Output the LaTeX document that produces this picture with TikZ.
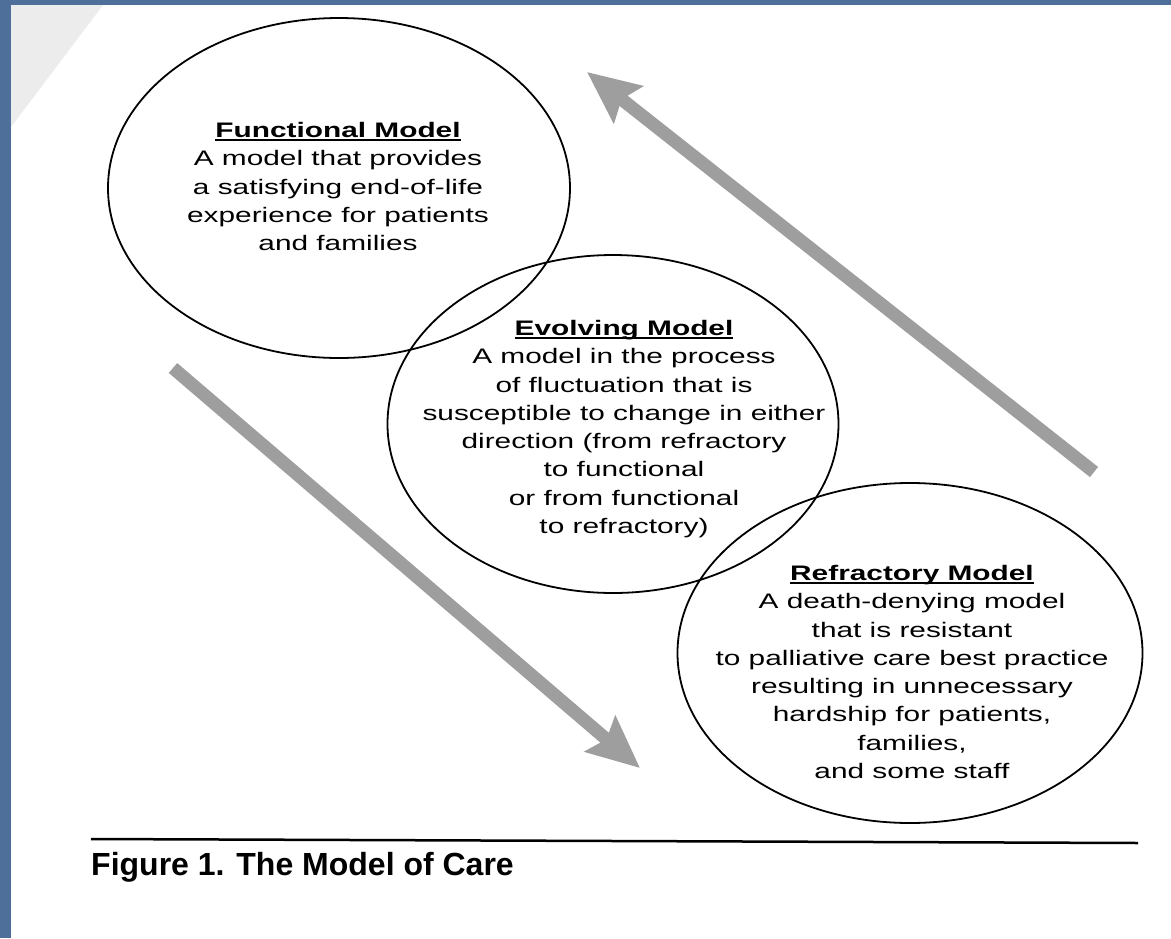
\documentclass[tikz,border=0pt]{standalone}
\usepackage{fontspec}
\usepackage{tikz}
\usetikzlibrary{shapes.geometric, arrows.meta}
\newfontfamily\figfont[FakeStretch=1.42, Ligatures=NoCommon]{Liberation Sans}
\newfontfamily\capfont[Ligatures=NoCommon]{Liberation Sans}
\definecolor{slide}{RGB}{77,111,153}
\newcommand{\ultitle}[1]{\setbox0\hbox{\bfseries #1}\rlap{\rule[-3.5pt]{\wd0}{1.6pt}}\box0}

\begin{document}
\begin{tikzpicture}[x=1pt, y=1pt,
  ring/.style={ellipse, draw, line width=1.8pt, inner sep=0pt},
  modeltext/.style={anchor=north, align=center, inner sep=0pt, font=\figfont\fontsize{21}{28.3}\selectfont},
  bigarrow/.style={line width=13pt, black!38, -{Stealth[length=52pt, width=46pt, inset=8pt]}}]
\fill[white] (0,0) rectangle (1171,-938);
\useasboundingbox (0,0) rectangle (1171,-938);
\fill[slide] (0,0) rectangle (11,-938);
\fill[slide] (0,0) rectangle (1171,-5);
\fill[gray!15] (11,-5) -- (103,-5) -- (11,-127) -- cycle;

% the three models
\node[ring, minimum width=462pt, minimum height=340pt] (functional) at (339,-188) {};
\node[ring, minimum width=451pt, minimum height=338pt] (evolving) at (613,-424) {};
\node[ring, minimum width=465pt, minimum height=340pt] (refractory) at (910,-653) {};

\node[modeltext] (functxt) at (338,-122) {\ultitle{Functional Model}\\
A model that provides\\
a satisfying end-of-life\\
experience for patients\\
and families};
\node[modeltext] (evoltxt) at (624,-320) {\ultitle{Evolving Model}\\
A model in the process\\
of fluctuation that is\\
susceptible to change in either\\
direction (from refractory\\
to functional\\
or from functional\\
to refractory)};
\node[modeltext] (refrtxt) at (912,-565) {\ultitle{Refractory Model}\\
A death-denying model\\
that is resistant\\
to palliative care best practice\\
resulting in unnecessary\\
hardship for patients,\\
families,\\
and some staff};

% arrows
\coordinate (upTail) at (1094,-472);
\coordinate (upTip) at (587,-72);
\coordinate (downTail) at (173,-368);
\coordinate (downTip) at (640,-768);
\draw[bigarrow] (upTail) -- (upTip);
\draw[bigarrow] (downTail) -- (downTip);

% caption
\coordinate (ruleL) at (91,-839);
\coordinate (ruleR) at (1138,-843);
\draw[line width=2.5pt] (ruleL) -- (ruleR);
\node[anchor=base west, inner sep=0pt, font=\capfont\bfseries\fontsize{32}{32}\selectfont] (caption) at (91,-875) {Figure 1. The Model of Care};
\end{tikzpicture}
\end{document}
